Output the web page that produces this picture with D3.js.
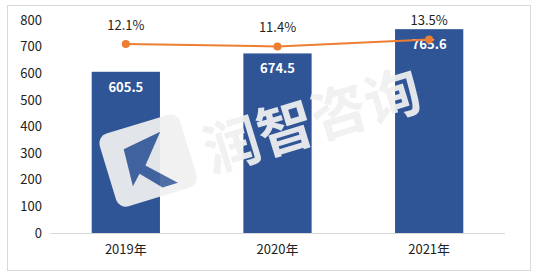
<!DOCTYPE html>
<html>
<head>
<meta charset="utf-8">
<script src="https://cdn.jsdelivr.net/npm/d3@7"></script>
<style>
  body { margin: 0; background: #fff; }
  text { font-family: "Noto Sans CJK SC", "Noto Sans", sans-serif; }
</style>
</head>
<body>
<script>
const years = ['2019年', '2020年', '2021年'];
const sales = [605.5, 674.5, 765.6];
const growth = [12.1, 11.4, 13.5];
const yTicks = [0, 100, 200, 300, 400, 500, 600, 700, 800];

const width = 537, height = 278;
const margin = { top: 20, right: 32, bottom: 45, left: 50 };

const svg = d3.select('body').append('svg')
  .attr('width', width)
  .attr('height', height);

// frame
svg.append('rect')
  .attr('x', 7.5).attr('y', 5.5)
  .attr('width', 523).attr('height', 265)
  .attr('fill', '#fff')
  .attr('stroke', '#d9d9d9');

const x = d3.scaleBand()
  .domain(years)
  .range([margin.left, width - margin.right])
  .paddingInner(0.55)
  .paddingOuter(0.275);

const y = d3.scaleLinear()
  .domain([0, 800])
  .range([height - margin.bottom, margin.top]);

// secondary axis for growth, not shown
const y2 = d3.scaleLinear()
  .domain([0, 14])
  .range([84, 37.8]);

// y axis labels
const yAxis = svg.append('g')
  .attr('transform', `translate(${margin.left - 8},0)`)
  .call(d3.axisLeft(y).tickValues(yTicks).tickSize(0).tickPadding(0));
yAxis.select('.domain').remove();
yAxis.selectAll('text')
  .attr('font-size', 13)
  .attr('fill', '#222');

// bars
svg.append('g').selectAll('rect')
  .data(sales)
  .join('rect')
  .attr('x', (d, i) => x(years[i]))
  .attr('y', d => y(d))
  .attr('width', x.bandwidth())
  .attr('height', d => y(0) - y(d))
  .attr('fill', '#2F5597');

// x axis
const xAxis = svg.append('g')
  .attr('transform', `translate(0,${y(0) + 0.5})`)
  .call(d3.axisBottom(x).tickSize(0).tickPadding(11));
xAxis.select('.domain').attr('stroke', '#d9d9d9').attr('d', `M${margin.left},0H${width - margin.right}`);
xAxis.selectAll('text')
  .attr('font-size', 13)
  .attr('fill', '#222');

// watermark
const wm = svg.append('g')
  .attr('transform', 'translate(150,160) rotate(-17)')
  .attr('opacity', 0.93);
wm.append('rect')
  .attr('x', -44).attr('y', -38)
  .attr('width', 84).attr('height', 76)
  .attr('rx', 10)
  .attr('fill', '#f0f0f0');
wm.append('path')
  .attr('d', 'M-22,-18 L18,-24 L-6,4 L20,30 L4,30 L-14,10 L-24,20 Z')
  .attr('fill', '#2F5597')
  .attr('opacity', 0.9);
svg.append('text')
  .attr('transform', 'translate(318,140) rotate(-17)')
  .attr('text-anchor', 'middle')
  .attr('font-size', 56)
  .attr('font-weight', 'bold')
  .attr('fill', '#f0f0f0')
  .attr('opacity', 0.93)
  .text('润智咨询');

// bar labels
svg.append('g').selectAll('text')
  .data(sales)
  .join('text')
  .attr('x', (d, i) => x(years[i]) + x.bandwidth() / 2)
  .attr('y', d => y(d) + 20)
  .attr('text-anchor', 'middle')
  .attr('font-size', 13)
  .attr('font-weight', 'bold')
  .attr('fill', '#fff')
  .text(d => d.toFixed(1));

// growth line
const line = d3.line()
  .x((d, i) => x(years[i]) + x.bandwidth() / 2)
  .y(d => y2(d));

svg.append('path')
  .datum(growth)
  .attr('d', line)
  .attr('fill', 'none')
  .attr('stroke', '#ED7D31')
  .attr('stroke-width', 2);

svg.append('g').selectAll('circle')
  .data(growth)
  .join('circle')
  .attr('cx', (d, i) => x(years[i]) + x.bandwidth() / 2)
  .attr('cy', d => y2(d))
  .attr('r', 4)
  .attr('fill', '#ED7D31');

svg.append('g').selectAll('text')
  .data(growth)
  .join('text')
  .attr('x', (d, i) => x(years[i]) + x.bandwidth() / 2)
  .attr('y', d => y2(d) - 14)
  .attr('text-anchor', 'middle')
  .attr('font-size', 13)
  .attr('fill', '#222')
  .text(d => d.toFixed(1) + '%');
</script>
</body>
</html>
